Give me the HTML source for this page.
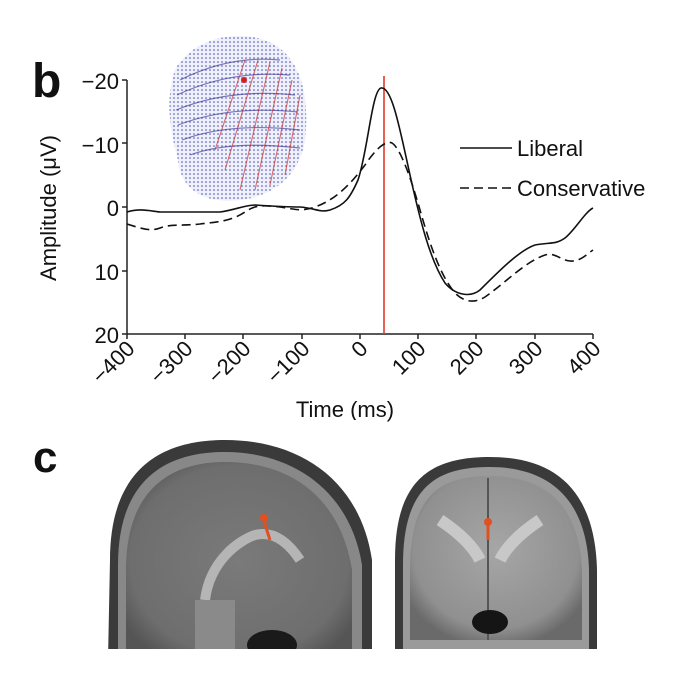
<!DOCTYPE html>
<html><head><style>
body{margin:0;background:#fff;}
svg{display:block;font-family:"Liberation Sans",Arial,sans-serif;}
</style></head><body>
<svg width="678" height="678" viewBox="0 0 678 678">
<defs>
<pattern id="dots" width="4" height="4" patternUnits="userSpaceOnUse">
<rect width="4" height="4" fill="#eef0fa"/><circle cx="2" cy="2" r="0.8" fill="#4a4ab0"/>
</pattern>
<radialGradient id="br1" cx="0.5" cy="0.5" r="0.6">
<stop offset="0" stop-color="#7a7a7a"/><stop offset="0.8" stop-color="#6e6e6e"/><stop offset="1" stop-color="#555"/>
</radialGradient>
<radialGradient id="br2" cx="0.5" cy="0.45" r="0.6">
<stop offset="0" stop-color="#a6a6a6"/><stop offset="0.8" stop-color="#909090"/><stop offset="1" stop-color="#6a6a6a"/>
</radialGradient>
<clipPath id="c1"><rect x="108" y="420" width="265" height="229"/></clipPath>
<clipPath id="c2"><rect x="392" y="420" width="206" height="229"/></clipPath>
</defs>

<g>
<path d="M175,70 C190,40 240,25 275,45 C300,60 310,95 305,140 C300,170 280,195 240,200 C200,205 180,185 178,160 C170,130 165,100 175,70Z" fill="url(#dots)"/>
<g fill="none" stroke="#2a2a90" stroke-width="1.2" opacity="0.6">
<path d="M180,80 Q230,55 280,60"/><path d="M177,95 Q230,70 290,75"/><path d="M176,110 Q230,88 295,95"/>
<path d="M178,125 Q230,105 298,112"/><path d="M182,140 Q230,122 300,130"/><path d="M190,155 Q230,140 300,148"/>
</g>
<g fill="none" stroke="#d03030" stroke-width="1.1" opacity="0.7">
<path d="M245,60 L215,150"/><path d="M258,60 L225,170"/><path d="M270,62 L240,190"/><path d="M282,68 L255,190"/><path d="M292,80 L270,185"/><path d="M300,95 L285,175"/>
</g>
<circle cx="244" cy="80" r="3" fill="#d02020"/>
</g>

<text x="32" y="97" font-size="48" font-weight="bold" fill="#111">b</text>

<g stroke="#222" stroke-width="1.5" fill="none">
<line x1="127" y1="80" x2="127" y2="334"/>
<line x1="127" y1="334" x2="593" y2="334"/>
<line x1="122" y1="80" x2="127" y2="80"/><line x1="122" y1="143" x2="127" y2="143"/><line x1="122" y1="207" x2="127" y2="207"/><line x1="122" y1="271" x2="127" y2="271"/><line x1="122" y1="334" x2="127" y2="334"/>
<line x1="127" y1="334" x2="127" y2="339"/><line x1="185" y1="334" x2="185" y2="339"/><line x1="243" y1="334" x2="243" y2="339"/><line x1="302" y1="334" x2="302" y2="339"/><line x1="360" y1="334" x2="360" y2="339"/><line x1="418" y1="334" x2="418" y2="339"/><line x1="476" y1="334" x2="476" y2="339"/><line x1="535" y1="334" x2="535" y2="339"/><line x1="593" y1="334" x2="593" y2="339"/>
</g>
<g font-size="22" fill="#111" text-anchor="end">
<text x="119" y="89">−20</text><text x="119" y="153">−10</text><text x="119" y="216">0</text><text x="119" y="280">10</text><text x="119" y="343">20</text>
</g>
<g font-size="22" fill="#111" text-anchor="end">
<text transform="translate(136,350) rotate(-45)">−400</text>
<text transform="translate(194,350) rotate(-45)">−300</text>
<text transform="translate(252,350) rotate(-45)">−200</text>
<text transform="translate(311,350) rotate(-45)">−100</text>
<text transform="translate(369,350) rotate(-45)">0</text>
<text transform="translate(427,350) rotate(-45)">100</text>
<text transform="translate(485,350) rotate(-45)">200</text>
<text transform="translate(544,350) rotate(-45)">300</text>
<text transform="translate(602,350) rotate(-45)">400</text>
</g>
<text x="345" y="417" font-size="22" fill="#111" text-anchor="middle">Time (ms)</text>
<text transform="translate(56,208) rotate(-90)" font-size="22" fill="#111" text-anchor="middle">Amplitude (μV)</text>

<line x1="384" y1="76" x2="384" y2="334" stroke="#e03a2a" stroke-width="1.6"/>

<path d="M127,212 C140,208 150,211 160,212 L220,212 C235,210 245,205 255,205 C270,206 285,207 300,207 C315,208 320,213 330,210 C345,205 350,198 358,180 C368,150 372,90 381,88 C392,86 400,130 410,175 C420,220 430,260 445,283 C455,295 470,298 480,290 C500,270 520,250 535,245 C550,242 555,245 565,238 C575,230 585,212 593,208"
 fill="none" stroke="#111" stroke-width="1.6"/>
<path d="M127,224 C140,228 150,232 160,228 C170,224 180,226 200,224 C215,222 230,222 245,212 C255,205 262,205 280,207 C295,209 300,212 315,207 C335,200 350,185 365,165 C375,150 385,140 392,143 C400,148 410,175 420,210 C430,245 440,275 455,293 C465,303 475,303 485,297 C505,283 525,262 545,255 C555,252 560,260 570,261 C580,262 587,254 593,250"
 fill="none" stroke="#111" stroke-width="1.6" stroke-dasharray="9,5"/>

<line x1="460" y1="148" x2="512" y2="148" stroke="#111" stroke-width="1.6"/>
<text x="517" y="156" font-size="22" fill="#111">Liberal</text>
<line x1="460" y1="188" x2="512" y2="188" stroke="#111" stroke-width="1.6" stroke-dasharray="9,5"/>
<text x="517" y="196" font-size="22" fill="#111">Conservative</text>

<text x="33" y="472" font-size="44" font-weight="bold" fill="#111">c</text>

<g clip-path="url(#c1)">
<rect x="108" y="420" width="265" height="229" fill="#fff"/>
<path d="M110,560 C110,470 160,440 225,440 C300,440 360,480 372,560 L372,660 L108,660Z" fill="#3a3a3a"/>
<path d="M118,565 C118,480 165,452 225,452 C292,452 350,490 362,565 L362,660 L118,660Z" fill="#888"/>
<path d="M126,570 C126,490 170,462 225,462 C288,462 340,495 352,570 L352,660 L126,660Z" fill="url(#br1)"/>
<path d="M205,600 C210,560 240,540 255,535 C275,530 290,545 300,560" fill="none" stroke="#b5b5b5" stroke-width="10"/>
<rect x="195" y="600" width="40" height="60" fill="#8a8a8a"/>
<ellipse cx="272" cy="645" rx="25" ry="15" fill="#1a1a1a"/>
<path d="M263,518 L270,540" stroke="#e05020" stroke-width="3"/>
<circle cx="264" cy="518" r="4" fill="#e05020"/>
</g>

<g clip-path="url(#c2)">
<rect x="392" y="420" width="206" height="229" fill="#fff"/>
<path d="M395,560 C395,480 430,457 490,457 C555,457 595,490 597,570 L597,660 L395,660Z" fill="#3a3a3a"/>
<path d="M403,565 C403,488 435,467 490,467 C548,467 587,498 589,570 L589,660 L403,660Z" fill="#9a9a9a"/>
<path d="M410,570 C410,495 440,476 490,476 C545,476 580,505 582,572 L582,640 L410,640Z" fill="url(#br2)"/>
<path d="M440,520 Q470,540 480,560 M540,520 Q510,540 500,560" stroke="#c8c8c8" stroke-width="12" fill="none"/>
<line x1="488" y1="478" x2="488" y2="640" stroke="#555" stroke-width="2"/>
<ellipse cx="490" cy="622" rx="18" ry="12" fill="#151515"/>
<path d="M488,522 L488,540" stroke="#e05020" stroke-width="3"/>
<circle cx="488" cy="522" r="4" fill="#e05020"/>
</g>
</svg>
</body></html>
